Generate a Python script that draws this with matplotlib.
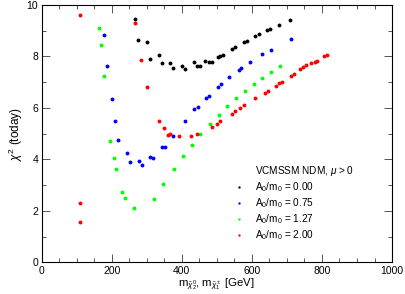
import matplotlib
matplotlib.use("Agg")
import matplotlib.pyplot as plt
from matplotlib.ticker import MultipleLocator
from matplotlib.lines import Line2D

plt.rcParams['font.family'] = ['Liberation Sans', 'DejaVu Sans']
plt.rcParams['mathtext.fontset'] = 'custom'
plt.rcParams['mathtext.rm'] = 'Liberation Sans'
plt.rcParams['mathtext.it'] = 'Liberation Sans:italic'

# A0/m0 = 0.00 (black)
x_000 = [267, 275, 300, 309, 334, 343, 367, 376, 400, 409, 434, 443, 451, 467, 477, 485,
         502, 509, 518, 542, 551, 576, 585, 610, 619, 644, 652, 677, 710]
y_000 = [9.45, 8.63, 8.56, 7.92, 8.06, 7.73, 7.73, 7.57, 7.62, 7.52, 7.78, 7.62, 7.62, 7.84,
         7.79, 7.79, 7.98, 8.01, 8.06, 8.30, 8.38, 8.57, 8.61, 8.81, 8.87, 9.01, 9.05, 9.23, 9.40]
# A0/m0 = 0.75 (blue)
x_075 = [177, 186, 202, 210, 218, 243, 252, 277, 286, 310, 319, 344, 352, 376, 409, 436,
         445, 468, 477, 503, 511, 536, 562, 570, 595, 629, 654, 712]
y_075 = [8.84, 7.64, 6.35, 5.49, 4.76, 4.23, 3.88, 3.93, 3.77, 4.08, 4.05, 4.48, 4.48, 4.90,
         5.49, 5.97, 6.02, 6.39, 6.48, 6.82, 6.91, 7.21, 7.48, 7.55, 7.79, 8.08, 8.27, 8.68]
# A0/m0 = 1.27 (green)
x_127 = [163, 170, 179, 195, 205, 212, 229, 237, 263, 320, 345, 378, 403, 429, 453, 479,
         505, 529, 554, 580, 606, 630, 655, 680]
y_127 = [9.09, 8.43, 7.23, 4.70, 4.05, 3.64, 2.72, 2.51, 2.10, 2.47, 3.03, 3.64, 4.14, 4.55,
         4.98, 5.37, 5.73, 6.07, 6.37, 6.67, 6.94, 7.17, 7.40, 7.62]
# A0/m0 = 2.00 (red)
x_200 = [108, 108, 108, 267, 284, 300, 334, 350, 360, 367, 392, 426, 443, 485, 501, 509,
         543, 551, 567, 577, 610, 636, 645, 669, 678, 687, 711, 721, 738, 747, 755, 770,
         779, 787, 805, 814]
y_200 = [9.60, 2.31, 1.58, 9.29, 7.86, 6.80, 5.51, 5.20, 4.94, 4.99, 4.90, 4.90, 4.98, 5.27,
         5.37, 5.50, 5.76, 5.86, 6.00, 6.11, 6.37, 6.59, 6.66, 6.87, 6.96, 7.00, 7.25, 7.32,
         7.52, 7.58, 7.65, 7.73, 7.78, 7.84, 8.00, 8.06]

series = [
    (x_000, y_000, '#000000', r'A$_0$/m$_0$ = 0.00'),
    (x_075, y_075, '#0000ff', r'A$_0$/m$_0$ = 0.75'),
    (x_127, y_127, '#00ff00', r'A$_0$/m$_0$ = 1.27'),
    (x_200, y_200, '#ff0000', r'A$_0$/m$_0$ = 2.00'),
]
legend_title = r'VCMSSM NDM, $\mu$ > 0'

fig = plt.figure(figsize=(4.05, 2.94), dpi=100)
ax = fig.add_axes([0.103, 0.108, 0.865, 0.875])

handles = [Line2D([], [], linestyle='none', marker='none')]
labels = [legend_title]
for xs, ys, c, lab in series:
    h, = ax.plot(xs, ys, linestyle='none', marker='o', markersize=2.8, color=c,
                 markeredgewidth=0, label=lab)
    handles.append(h)
    labels.append(lab)

ax.set_xlim(0, 1000)
ax.set_ylim(0, 10)
ax.xaxis.set_major_locator(MultipleLocator(200))
ax.xaxis.set_minor_locator(MultipleLocator(50))
ax.yaxis.set_major_locator(MultipleLocator(2))
ax.yaxis.set_minor_locator(MultipleLocator(1))
ax.tick_params(which='both', direction='in', top=True, right=True, labelsize=7.5,
               width=0.7, color='#555555')
ax.tick_params(which='major', length=6, pad=2.5)
ax.tick_params(which='minor', length=3)
for s in ax.spines.values():
    s.set_linewidth(0.8)

ax.set_xlabel(r'm$_{\tilde{\chi}_2^0}$, m$_{\tilde{\chi}_1^\pm}$ [GeV]', fontsize=8.2, labelpad=0)
ax.set_ylabel(r'$\chi^2$ (today)', fontsize=8.5, labelpad=1)

leg = ax.legend(handles, labels, loc='lower left', bbox_to_anchor=(0.52, 0.052), frameon=False,
                fontsize=7.2, markerscale=0.6, handlelength=1.6, handletextpad=0.8,
                labelspacing=0.22, borderpad=0.2)

fig.savefig('out.png', dpi=100)
